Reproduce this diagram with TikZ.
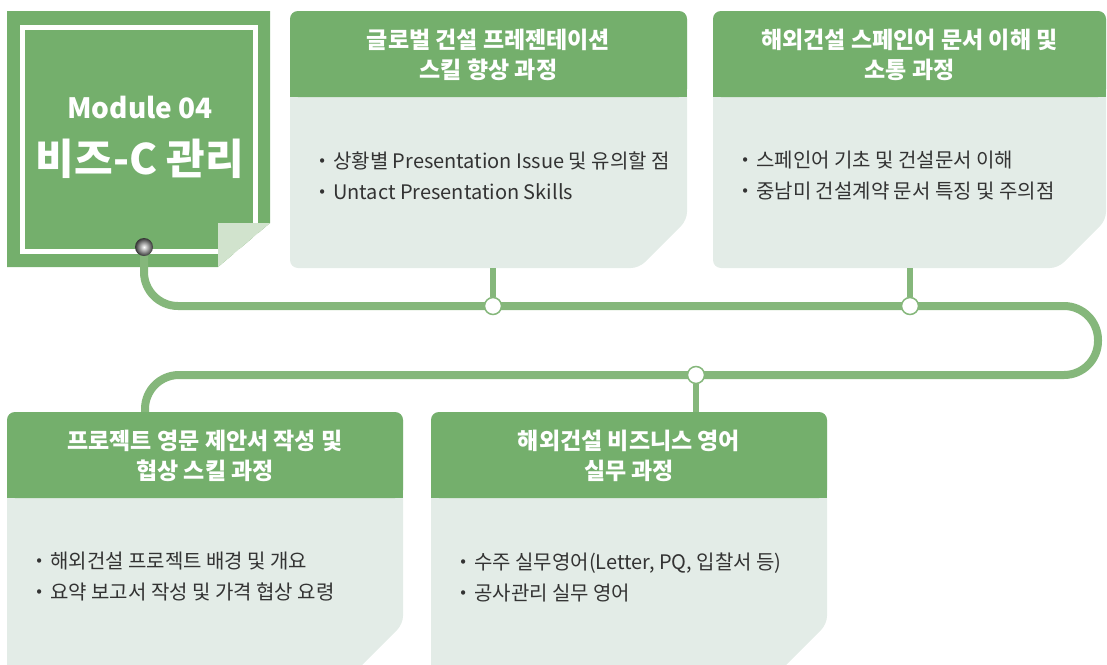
\documentclass[tikz,border=0pt]{standalone}
\usepackage{fontspec}
\setmainfont{Noto Sans CJK KR}
\usepackage{tikz}

\definecolor{headgreen}{HTML}{74AF6C}
\definecolor{bodygray}{HTML}{E3ECE7}
\definecolor{trackgreen}{HTML}{85B77B}
\definecolor{foldgreen}{HTML}{D1E3CD}
\definecolor{itemgray}{HTML}{333333}

\begin{document}
\begin{tikzpicture}[x=1pt,y=-1pt,
    head/.style={fill=headgreen},
    body/.style={fill=bodygray},
    track/.style={draw=trackgreen,line width=8pt,rounded corners=34pt},
    stem/.style={draw=trackgreen,line width=6pt},
    joint/.style={circle,draw=trackgreen,fill=white,line width=1.5pt,inner sep=0pt,minimum size=17pt},
    hole/.style={circle,inner sep=0pt,minimum size=18pt,shade,inner color=white,outer color=black!80},
    headtext/.style={text=white,font=\fontsize{23}{30}\selectfont\bfseries,align=center},
    itemtext/.style={text=itemgray,font=\fontsize{20}{31}\selectfont,align=left,anchor=west},
    modtext/.style={text=white,font=\bfseries}]
        \clip (0,0) rectangle (1107,664);
        % module card
        \fill[headgreen] (7,11) -- (270,11) -- (270,223) -- (218,267) -- (7,267) -- cycle;
        \draw[white,line width=5pt] (22,27) rectangle (255,251);
        \fill[foldgreen] (218,223) -- (270,223) -- (218,267) -- cycle;
        \node[modtext,font=\fontsize{28}{30}\selectfont\bfseries] (modtitle) at (140,108) {Module 04};
        \node[modtext,font=\fontsize{42}{44}\selectfont\bfseries] (modname) at (140,159) {비즈-C 관리};
        % track
        \coordinate (eyelet) at (144,247);
        \coordinate (j1c) at (493,306);
        \coordinate (j2c) at (910,306);
        \coordinate (j3c) at (696,375);
        \coordinate (turn) at (1098,375);
        \coordinate (cdrop) at (145,425);
        \draw[track] (eyelet) |- (j1c) -- (j2c) -| (turn) -- (j3c) -| (cdrop);
        % course cards
        \foreach \nm/\xa/\xb/\ya/\yb/\ttl/\itm in {
            A/290/687/11/268/{글로벌 건설 프레젠테이션\\스킬 향상 과정}/{{\bfseries·} 상황별 Presentation Issue 및 유의할 점\\{\bfseries·} Untact Presentation Skills},
            B/713/1106/11/268/{해외건설 스페인어 문서 이해 및\\소통 과정}/{{\bfseries·} 스페인어 기초 및 건설문서 이해\\{\bfseries·} 중남미 건설계약 문서 특징 및 주의점},
            C/7/403/412/672/{프로젝트 영문 제안서 작성 및\\협상 스킬 과정}/{{\bfseries·} 해외건설 프로젝트 배경 및 개요\\{\bfseries·} 요약 보고서 작성 및 가격 협상 요령},
            D/431/827/412/672/{해외건설 비즈니스 영어\\실무 과정}/{{\bfseries·} 수주 실무영어(Letter, PQ, 입찰서 등)\\{\bfseries·} 공사관리 실무 영어}}
        {
            \fill[body,rounded corners=8pt] (\xa,\ya) -- (\xb,\ya) -- (\xb,\yb-48) -- (\xb-48,\yb) -- (\xa,\yb) -- cycle;
            \fill[head,rounded corners=8pt] (\xa,\ya) rectangle (\xb,\ya+86);
            \fill[head] (\xa,\ya+40) rectangle (\xb,\ya+86);
            \node[headtext] (title-\nm) at ({(\xa+\xb)/2},\ya+44) {\ttl};
            \node[itemtext] (items-\nm) at (\xa+23,\ya+165) {\itm};
        }
        % joints and stems
        \coordinate (A-bot) at (493,268);
        \coordinate (B-bot) at (910,268);
        \coordinate (D-top) at (696,412);
        \node[joint] (j1) at (j1c) {};
        \node[joint] (j2) at (j2c) {};
        \node[joint] (j3) at (j3c) {};
        \draw[stem] (A-bot) -- (j1);
        \draw[stem] (B-bot) -- (j2);
        \draw[stem] (j3) -- (D-top);
        \node[hole] (knob) at (eyelet) {};
\end{tikzpicture}
\end{document}
